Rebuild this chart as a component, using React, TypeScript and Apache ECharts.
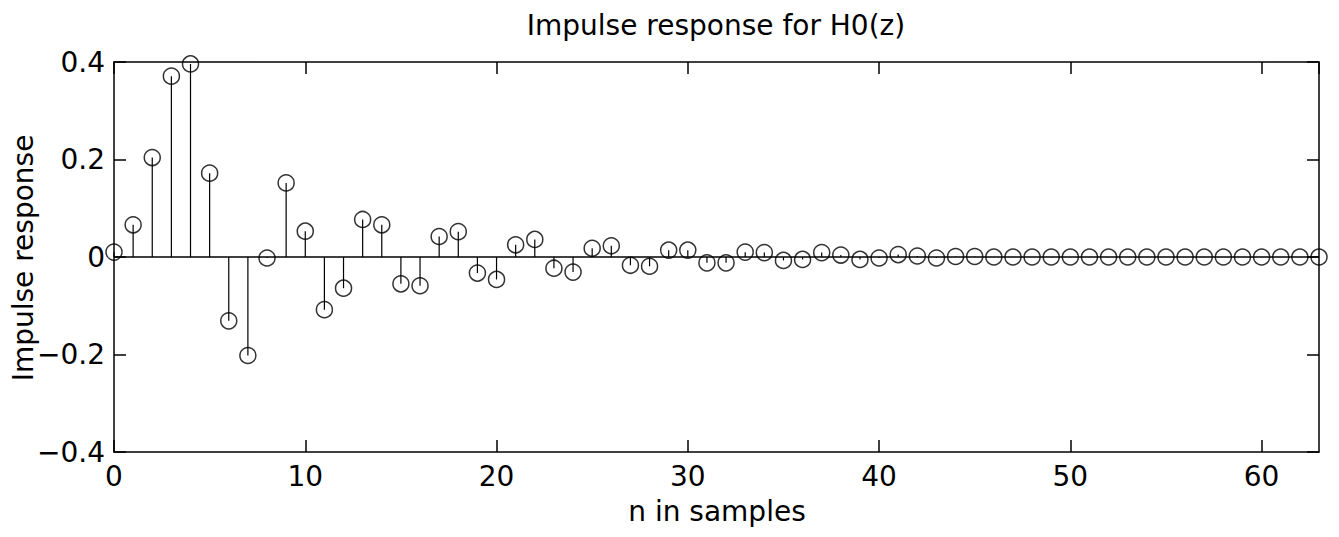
import React, { useEffect, useRef } from "react";
import * as echarts from "echarts";

const titleText = "Impulse response for H0(z)";
const xAxisName = "n in samples";
const yAxisName = "Impulse response";

const responseValues: number[] = [
  0.01, 0.066, 0.204, 0.371, 0.396, 0.172, -0.131, -0.202, -0.002, 0.152,
  0.053, -0.108, -0.064, 0.077, 0.066, -0.055, -0.059, 0.042, 0.052, -0.033,
  -0.046, 0.025, 0.036, -0.023, -0.031, 0.018, 0.023, -0.017, -0.019, 0.014,
  0.014, -0.012, -0.012, 0.01, 0.009, -0.007, -0.005, 0.009, 0.004, -0.005,
  -0.002, 0.005, 0.002, -0.002, 0.001, 0.001, 0.0, 0.0, 0.0, 0.0,
  0.0, 0.0, 0.0, 0.0, 0.0, 0.0, 0.0, 0.0, 0.0, 0.0,
  0.0, 0.0, 0.0, 0.0,
];
const sampleIndex: number[] = responseValues.map((_, i) => i);

const xTicks = { min: 0, max: 63, interval: 10 };
const yTicks = { min: -0.4, max: 0.4, interval: 0.2 };

const FONT = "DejaVu Sans";

export default function App() {
  const ref = useRef<HTMLDivElement>(null);

  useEffect(() => {
    if (!ref.current) return;
    const chart = echarts.init(ref.current, undefined, { renderer: "svg" });
    const points = sampleIndex.map((n, i) => [n, responseValues[i]]);
    const fmt = (v: number) => {
      const r = Math.round(v * 10) / 10;
      const s = String(Math.abs(r));
      return r < 0 ? "\u2212" + s : s;
    };
    const axisLine = { show: true, onZero: false, lineStyle: { color: "#000", width: 1.5 } };
    const tick = { show: true, inside: true, length: 12, lineStyle: { color: "#000", width: 1.5 } };

    chart.setOption({
      animation: false,
      backgroundColor: "#fff",
      grid: { left: 114, right: 20, top: 62, bottom: 85, containLabel: false },
      xAxis: [
        {
          type: "value",
          position: "bottom",
          ...xTicks,
          axisLine,
          axisTick: tick,
          splitLine: { show: false },
          axisLabel: {
            margin: 12,
            fontSize: 28,
            lineHeight: 24,
            fontFamily: FONT,
            color: "#000",
            showMaxLabel: false,
            formatter: (v: number) => (v % 10 === 0 ? String(v) : ""),
          },
        },
        {
          type: "value",
          position: "top",
          ...xTicks,
          axisLine,
          axisTick: tick,
          splitLine: { show: false },
          axisLabel: { show: false },
        },
      ],
      yAxis: [
        {
          type: "value",
          position: "left",
          ...yTicks,
          axisLine,
          axisTick: tick,
          splitLine: { show: false },
          axisLabel: {
            margin: 9,
            fontSize: 28,
            lineHeight: 24,
            fontFamily: FONT,
            color: "#000",
            formatter: fmt,
          },
        },
        {
          type: "value",
          position: "right",
          ...yTicks,
          axisLine,
          axisTick: tick,
          splitLine: { show: false },
          axisLabel: { show: false },
        },
      ],
      graphic: [
        {
          type: "text",
          x: 716,
          y: 25,
          style: {
            text: titleText,
            fontSize: 28,
            lineHeight: 26,
            fontFamily: FONT,
            fill: "#000",
            textAlign: "center",
            textVerticalAlign: "middle",
          },
        },
        {
          type: "text",
          x: 717,
          y: 511,
          style: {
            text: xAxisName,
            fontSize: 28,
            lineHeight: 24,
            fontFamily: FONT,
            fill: "#000",
            textAlign: "center",
            textVerticalAlign: "middle",
          },
        },
        {
          type: "text",
          x: 23,
          y: 258,
          rotation: Math.PI / 2,
          style: {
            text: yAxisName,
            fontSize: 28,
            lineHeight: 26,
            fontFamily: FONT,
            fill: "#000",
            textAlign: "center",
            textVerticalAlign: "middle",
          },
        },
      ],
      series: [
        {
          type: "line",
          data: [
            [xTicks.min, 0],
            [xTicks.max, 0],
          ],
          symbol: "none",
          lineStyle: { color: "#000", width: 1.5 },
          z: 1,
        },
        {
          type: "custom",
          data: points,
          renderItem: (params: any, api: any) => {
            const x = api.value(0);
            const y = api.value(1);
            const p0 = api.coord([x, 0]);
            const p1 = api.coord([x, y]);
            return {
              type: "line",
              shape: { x1: p0[0], y1: p0[1], x2: p1[0], y2: p1[1] },
              style: { stroke: "#000", lineWidth: 1.2 },
            };
          },
          z: 2,
        },
        {
          type: "scatter",
          data: points,
          symbol: "circle",
          symbolSize: 16,
          clip: false,
          itemStyle: { color: "rgba(0,0,0,0)", borderColor: "#000", borderWidth: 1.5 },
          z: 3,
        },
      ],
    });
    return () => chart.dispose();
  }, []);

  return (
    <div
      ref={ref}
      style={{ position: "fixed", left: 0, top: 0, width: 1339, height: 537, background: "#fff" }}
    />
  );
}
